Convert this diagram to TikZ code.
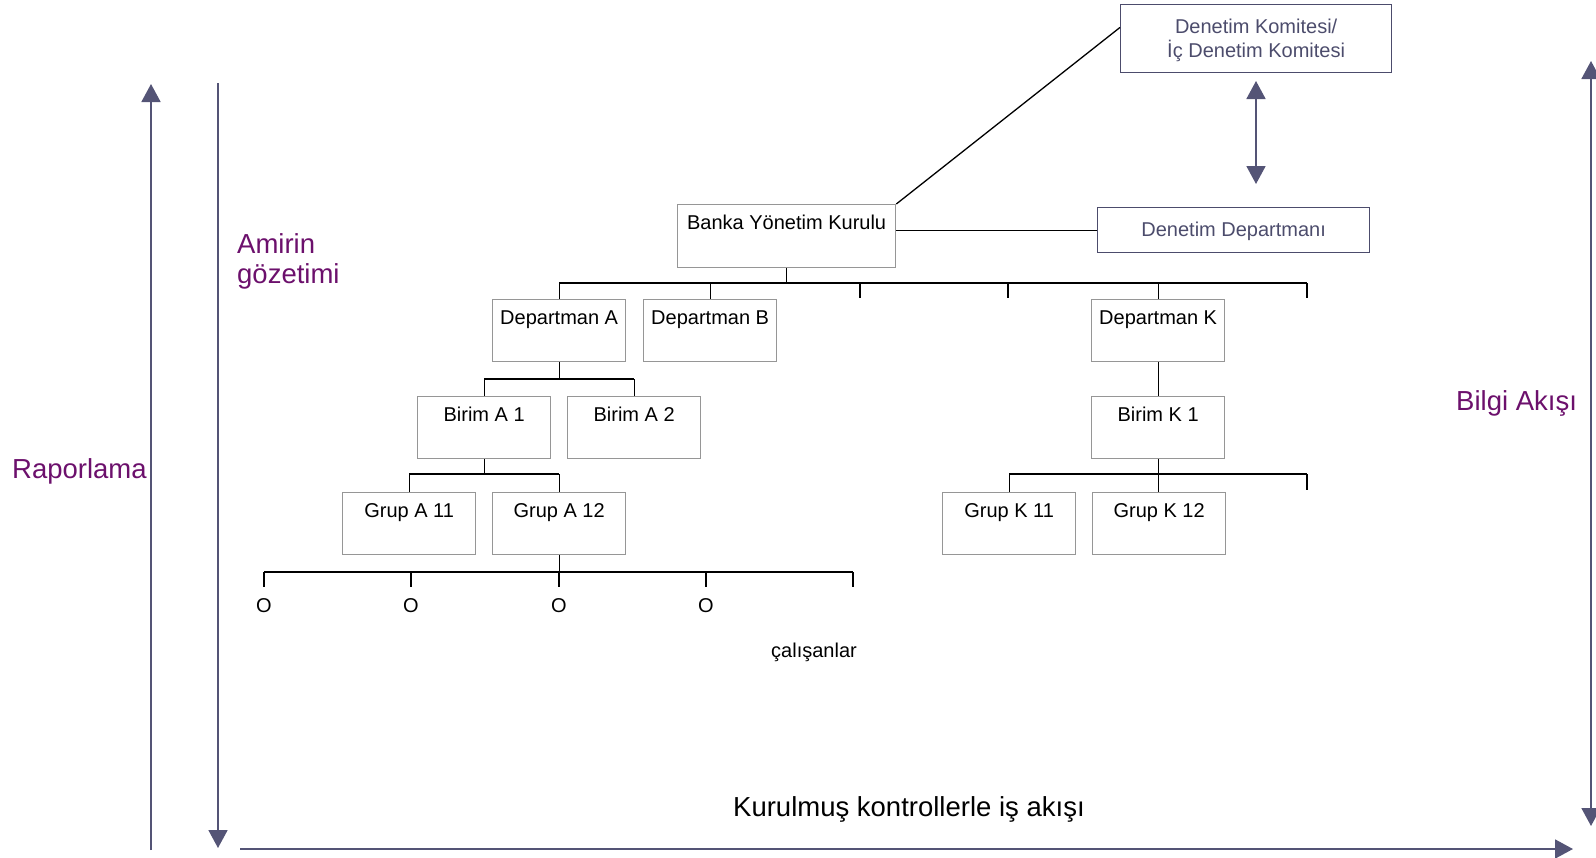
\documentclass[tikz,border=0pt]{standalone}
\usepackage{fontspec}
\setmainfont{Liberation Sans}
\usetikzlibrary{arrows.meta,calc}
\definecolor{flow}{RGB}{84,84,118}
\definecolor{plum}{RGB}{108,16,108}
\definecolor{audit}{RGB}{76,76,108}
\definecolor{boxgray}{RGB}{150,150,150}
\begin{document}
\begin{tikzpicture}[x=1pt,y=-1pt,
  orgbox/.style={draw=boxgray, line width=1.3pt, minimum width=133pt,
    text height=20pt, text depth=32pt, inner ysep=5pt, inner xsep=2pt,
    anchor=north west, font=\fontsize{20}{24}\selectfont},
  auditbox/.style={draw=audit, line width=1.3pt, text=audit, align=center,
    anchor=north west, font=\fontsize{20}{24}\selectfont},
  orgline/.style={draw=black, line width=1.3pt},
  flowarrow/.style={draw=flow, line width=1.8pt,
    -{Triangle[length=18pt,width=19pt]}},
  flowboth/.style={draw=flow, line width=1.8pt,
    {Triangle[length=18pt,width=19pt]}-{Triangle[length=18pt,width=19pt]}},
  biglabel/.style={text=plum, inner sep=0pt, font=\fontsize{27.5}{30}\selectfont},
  plain/.style={inner sep=0pt, font=\fontsize{20}{24}\selectfont}]
\useasboundingbox (0,0) rectangle (1596,857);

% board and audit bodies
\node[orgbox, minimum width=218pt, text depth=33pt] (bk) at (677,204) {Banka Yönetim Kurulu};
\node[auditbox, minimum width=271pt, minimum height=68pt] (dk) at (1120,4)
  {\rule{0pt}{18pt}Denetim Komitesi/\\İç Denetim Komitesi};
\node[auditbox, minimum width=272pt, minimum height=45pt] (dd) at (1097,207) {\rule{0pt}{17pt}Denetim Departmanı};

\draw[orgline] (bk.north east) -- ($(dk.north west)!0.338!(dk.south west)$);
\draw[orgline] (dd.west) -- (dd.west -| bk.east);
\coordinate (dkArrTop) at (1256,81);
\coordinate (dkArrBot) at (1256,184);
\draw[flowboth] (dkArrTop) -- (dkArrBot);

% departments
\node[orgbox] (da) at (492,299) {Departman A};
\node[orgbox] (db) at (643,299) {Departman B};
\node[orgbox] (dK) at (1091,299) {Departman K};
\coordinate (bus1) at (786,283);
\coordinate (t3) at (860,298);
\coordinate (t4) at (1008,298);
\coordinate (t6) at (1307,298);
\draw[orgline] (bk.south) -- (bk.south |- bus1);
\draw[orgline] (da.north |- bus1) -- (t6 |- bus1);
\draw[orgline] (da.north |- bus1) -- (da.north);
\draw[orgline] (db.north |- bus1) -- (db.north);
\draw[orgline] (dK.north |- bus1) -- (dK.north);
\draw[orgline] (t3 |- bus1) -- (t3);
\draw[orgline] (t4 |- bus1) -- (t4);
\draw[orgline] (t6 |- bus1) -- (t6);

% units
\node[orgbox] (ba1) at (417,396) {Birim A 1};
\node[orgbox] (ba2) at (567,396) {Birim A 2};
\node[orgbox] (bK1) at (1091,396) {Birim K 1};
\coordinate (bus2) at (559,379);
\draw[orgline] (da.south) -- (da.south |- bus2);
\draw[orgline] (ba1.north |- bus2) -- (ba2.north |- bus2);
\draw[orgline] (ba1.north |- bus2) -- (ba1.north);
\draw[orgline] (ba2.north |- bus2) -- (ba2.north);
\draw[orgline] (dK.south) -- (bK1.north);

% groups
\node[orgbox] (ga11) at (342,492) {Grup A 11};
\node[orgbox] (ga12) at (492,492) {Grup A 12};
\node[orgbox] (gk11) at (942,492) {Grup K 11};
\node[orgbox] (gk12) at (1092,492) {Grup K 12};
\coordinate (bus3a) at (483,474);
\coordinate (bus3k) at (1158,474);
\coordinate (tk3) at (1307,490);
\draw[orgline] (ba1.south) -- (ba1.south |- bus3a);
\draw[orgline] (ga11.north |- bus3a) -- (ga12.north |- bus3a);
\draw[orgline] (ga11.north |- bus3a) -- (ga11.north);
\draw[orgline] (ga12.north |- bus3a) -- (ga12.north);
\draw[orgline] (bK1.south) -- (bK1.south |- bus3k);
\draw[orgline] (gk11.north |- bus3k) -- (tk3 |- bus3k);
\draw[orgline] (gk11.north |- bus3k) -- (gk11.north);
\draw[orgline] (bK1.south |- bus3k) -- (bK1.south |- gk12.north);
\draw[orgline] (tk3 |- bus3k) -- (tk3);

% employees
\node[plain] (e1) at (264,606) {O};
\node[plain] (e2) at (411,606) {O};
\node[plain] (e3) at (559,606) {O};
\node[plain] (e4) at (706,606) {O};
\coordinate (e5) at (853,587);
\coordinate (bus4) at (559,572);
\draw[orgline] (ga12.south) -- (ga12.south |- bus4);
\draw[orgline] (e1 |- bus4) -- (e5 |- bus4);
\foreach \e in {e1,e2,e3,e4} \draw[orgline] (\e |- bus4) -- (\e |- e5);
\draw[orgline] (e5 |- bus4) -- (e5);
\node[plain] (staff) at (814,652) {çalışanlar};

% flow arrows and their labels
\coordinate (repBot) at (151,850);
\coordinate (repTop) at (151,84);
\draw[flowarrow] (repBot) -- (repTop);
\coordinate (supTop) at (218,83);
\coordinate (supBot) at (218,848);
\draw[flowarrow] (supTop) -- (supBot);
\coordinate (workL) at (240,849);
\coordinate (workR) at (1573,849);
\draw[flowarrow] (workL) -- (workR);
\coordinate (infoTop) at (1591,61);
\coordinate (infoBot) at (1591,826);
\draw[flowboth] (infoTop) -- (infoBot);

\node[biglabel, anchor=base west] (rep) at (12,478) {Raporlama};
\node[biglabel, anchor=base west, align=left] (sup) at (237,283) {Amirin\\gözetimi};
\node[biglabel, anchor=base west] (info) at (1456,410) {Bilgi Akışı};
\node[inner sep=0pt, anchor=base west, font=\fontsize{27.5}{30}\selectfont] (work) at (733,816)
  {Kurulmuş kontrollerle iş akışı};
\end{tikzpicture}
\end{document}
